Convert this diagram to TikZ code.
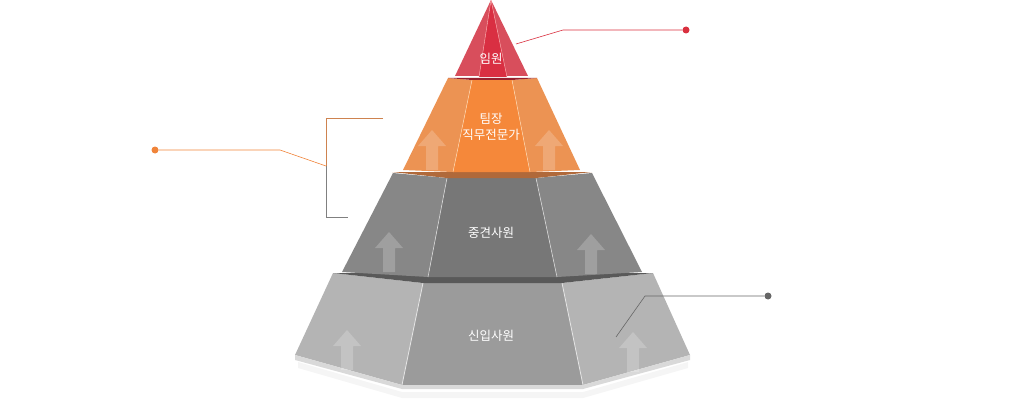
\documentclass[tikz,border=0pt]{standalone}
\usepackage{fontspec}
\newfontfamily\kr{Noto Sans CJK KR}
\usetikzlibrary{positioning}
\definecolor{redside}{HTML}{D84E5C}
\definecolor{redmid}{HTML}{D92F42}
\definecolor{orside}{HTML}{EC9353}
\definecolor{ormid}{HTML}{F5883A}
\definecolor{orlip}{HTML}{B0693A}
\definecolor{midside}{HTML}{878787}
\definecolor{midmid}{HTML}{777777}
\definecolor{botside}{HTML}{B4B4B4}
\definecolor{botmid}{HTML}{9B9B9B}
\definecolor{dotred}{HTML}{D9303F}
\definecolor{dotor}{HTML}{F0843A}
\definecolor{dotgray}{HTML}{666666}
\tikzset{
  lbl/.style={text=white, font=\kr\fontsize{12.5}{16}\selectfont, inner sep=1pt},
  uparrow/.style={fill=white, opacity=0.2},
  leader/.style={line width=0.6pt},
}
\newcommand\uparr[2]{% x,y of arrow base centre
  \fill[uparrow] (#1-6,#2) -- (#1-6,#2-24) -- (#1-14,#2-24) -- (#1,#2-40) -- (#1+14,#2-24) -- (#1+6,#2-24) -- (#1+6,#2) -- cycle;}
\begin{document}
\begin{tikzpicture}[x=1pt,y=-1pt]
\useasboundingbox (0,0) rectangle (1023,420);
% shadow under base
\fill[gray!8] (298,362) -- (402,392) -- (583,392) -- (688,362) -- (688,368) -- (583,398) -- (402,398) -- (298,368) -- cycle;
% bottom tier
\fill[botside] (333,273) -- (423,283) -- (402,385) -- (295,355) -- cycle;
\fill[botside] (653,273) -- (562,283) -- (583,385) -- (690,355) -- cycle;
\fill[botmid] (423,283) -- (562,283) -- (583,385) -- (402,385) -- cycle;
\draw[white!80!gray, line width=0.8pt] (423,283) -- (402,385) (562,283) -- (583,385);
\fill[gray!30] (295,355) -- (402,385) -- (583,385) -- (690,355) -- (690,360) -- (583,389) -- (402,389) -- (295,360) -- cycle;
\uparr{347}{370}\uparr{633}{372}
% dark band
\fill[black!65] (333,273) -- (653,273) -- (562,283) -- (423,283) -- cycle;
% middle tier
\fill[midside] (393,173) -- (447,178) -- (428,277) -- (342,272) -- cycle;
\fill[midside] (592,173) -- (536,178) -- (557,277) -- (642,272) -- cycle;
\fill[midmid] (447,178) -- (536,178) -- (557,277) -- (428,277) -- cycle;
\draw[white!70!gray, line width=0.6pt] (447,178) -- (428,277) (536,178) -- (557,277);
\uparr{389}{272}\uparr{591}{274}
% orange lip
\fill[orlip] (392,172) -- (592,172) -- (536,178) -- (447,178) -- cycle;
% orange tier
\fill[orside] (448,78) -- (472,80) -- (453,172) -- (403,170) -- cycle;
\fill[orside] (537,78) -- (512,80) -- (530,172) -- (580,170) -- cycle;
\fill[ormid] (472,80) -- (512,80) -- (530,172) -- (453,172) -- cycle;
\draw[orange!30!white, line width=0.5pt] (472,80) -- (453,172) (512,80) -- (530,172);
\uparr{432}{170}\uparr{549}{170}
% red top
\fill[redmid!70!black] (448,78) -- (537,78) -- (512,80) -- (472,80) -- cycle;
\fill[redside] (491,0) -- (455,76) -- (528,76) -- cycle;
\fill[redmid] (491,0) -- (479,77) -- (507,77) -- cycle;
\draw[red!25!white, line width=0.4pt] (491,0) -- (479,77) (491,0) -- (507,77);
% labels
\node[lbl] (top) at (491,59) {임원};
\node[lbl, align=center] (lead) at (491,127) {팀장\\직무전문가};
\node[lbl] (mid) at (491,233) {중견사원};
\node[lbl] (new) at (491,336) {신입사원};
% leaders
\coordinate (r0) at (516,44);
\node[circle, fill=dotred, inner sep=0, minimum size=7pt] (rdot) at (686,30) {};
\draw[leader, dotred] (r0) -- (563,30) -- (rdot);
\node[circle, fill=dotor, inner sep=0, minimum size=7pt] (odot) at (155,150) {};
\draw[leader, dotor] (odot) -- (280,150) -- (326,166);
\draw[leader, dotor!70!gray] (383,118) -- (326,118) -- (326,166);
\draw[leader, gray] (326,166) -- (326,217) -- (348,217);
\coordinate (g0) at (616,337);
\node[circle, fill=dotgray, inner sep=0, minimum size=7pt] (gdot) at (768,296) {};
\draw[leader, dotgray] (g0) -- (645,296) -- (gdot);
\end{tikzpicture}
\end{document}
